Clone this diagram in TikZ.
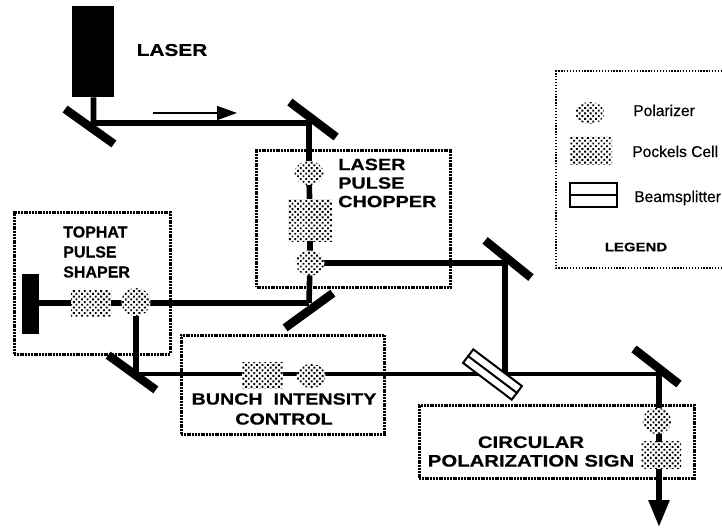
\documentclass[tikz,border=0pt]{standalone}
\usepackage{fontspec}
\setmainfont[FakeBold=0.4]{Liberation Sans}
\newfontfamily\wb[FakeStretch=1.22,FakeBold=0.5]{Liberation Sans}
\newfontfamily\nb[FakeBold=0.5]{Liberation Sans}
\usetikzlibrary{patterns.meta,arrows.meta,shapes.geometric,backgrounds}
\newdimen\px \px=.75pt
\tikzset{
  hatch/.style={fill=white,postaction={pattern={Dots[radius=1pt,distance=2.9pt,angle=45]},pattern color=black}},
  polar/.style={ellipse,draw=none,inner sep=0pt,hatch,minimum width=29\px,minimum height=24\px},
  pockels/.style={rectangle,draw=none,inner sep=0pt,hatch},
  mirror/.style={rectangle,fill=black,inner sep=0pt,minimum height=8.5\px},
  beam/.style={line width=5.6\px,draw=black},
  thinbeam/.style={line width=3.6\px,draw=black},
  zone/.style={draw=black,line width=3\px,dash pattern=on 2\px off 0.8\px},
  legendline/.style={draw=black,line width=1.2\px,dash pattern=on 1.3\px off 1.6\px},
  splitter/.style={rectangle,draw=black,fill=white,line width=2\px,inner sep=0pt},
  title/.style={font=\wb\bfseries\fontsize{12.2}{13.9}\selectfont,inner sep=0pt,text=black},
  legendtext/.style={font=\fontsize{11.7}{13}\selectfont,inner sep=0pt,anchor=base west,text=black},
}
\begin{document}
\begin{tikzpicture}[x=.75pt,y=-.75pt]
\useasboundingbox (0,0) rectangle (722,529);
\begin{scope}[on background layer]
\fill[white] (0,0) rectangle (722,529);
\end{scope}
% zones
\node[zone,rectangle,inner sep=0pt,minimum width=194\px,minimum height=137\px] (chopbox) at (353.5,218.5) {};
\node[zone,rectangle,inner sep=0pt,minimum width=156\px,minimum height=142\px] (topbox) at (92,283) {};
\node[zone,rectangle,inner sep=0pt,minimum width=203\px,minimum height=99\px] (bunchbox) at (282.5,384.5) {};
\node[zone,rectangle,inner sep=0pt,minimum width=275\px,minimum height=73\px] (circbox) at (556.5,441.5) {};
% components
\node[rectangle,fill=black,inner sep=0pt,minimum width=42\px,minimum height=91\px] (laser) at (92.5,51.5) {};
\node[mirror,rotate=-35.5,minimum width=60\px] (m1) at (89.5,126.5) {};
\node[mirror,rotate=-37,minimum width=58\px] (m2) at (313,119.5) {};
\node[mirror,rotate=-39,minimum width=59\px] (m3) at (508,259) {};
\node[mirror,rotate=36,minimum width=59\px] (m4) at (309,310.5) {};
\node[mirror,rotate=-36,minimum width=59\px] (m5) at (132,372.5) {};
\node[mirror,rotate=-38,minimum width=57\px] (m6) at (656.5,366.5) {};
\node[rectangle,fill=black,inner sep=0pt,minimum width=17\px,minimum height=60\px] (stop) at (30.5,304) {};
\coordinate (b1) at (93.5,123);
\coordinate (b2) at (309,123);
\coordinate (b3) at (505,263);
\coordinate (b4) at (309,303);
\coordinate (b5) at (136,374);
\coordinate (b6) at (659,374);
\coordinate (b7) at (505,374);
\coordinate (stopb) at (30,303);
\coordinate (out) at (659,527);
\node[polar] (p1) at (309,173) {};
\node[pockels,minimum width=44\px,minimum height=42\px] (c1) at (310,220) {};
\node[polar,minimum height=25\px] (p2) at (310,263) {};
\node[pockels,minimum width=40\px,minimum height=26\px] (c2) at (91,303) {};
\node[polar,minimum height=28\px] (p3) at (136,302) {};
\node[pockels,minimum width=41\px,minimum height=26\px] (c3) at (262.5,375) {};
\node[polar] (p4) at (311,376) {};
\node[polar,minimum height=26\px] (p5) at (657,421) {};
\node[pockels,minimum width=40\px,minimum height=27\px] (c4) at (661,455) {};
\node[splitter,rotate=-37,minimum width=61\px,minimum height=17\px] (bs) at (492.5,374.5) {};
\draw[line width=2\px] (bs.west) -- (bs.east);
% beams
\begin{scope}[on background layer]
\draw[beam] (b1 |- laser.south) -- (b1) -- (b2) -- (p1.center) -- (c1.center) -- (p2.center) -- (b4);
\draw[beam] (p2.center) -- (b3) -- (b7);
\draw[beam] (stopb) -- (b4);
\draw[beam] (p3.center) -- (b5);
\draw[thinbeam] (b5) -- (b6);
\draw[beam,-{Triangle[length=20.25pt,width=15pt]}] (b6) -- (out);
\end{scope}
% small arrow
\coordinate (aa) at (153,113); \coordinate (ab) at (237,113);
\draw[line width=1.6\px,-{Triangle[length=15pt,width=10.5pt]}] (aa) -- (ab);
% legend
\coordinate (la) at (722,71); \coordinate (lb) at (556,71);
\coordinate (lc) at (556,268); \coordinate (ld) at (722,268);
\draw[legendline] (la) -- (lb) -- (lc) -- (ld);
\node[polar,minimum height=22\px] (lp) at (590,113) {};
\node[pockels,minimum width=42\px,minimum height=28\px] (lcell) at (591,150) {};
\node[splitter,minimum width=47\px,minimum height=24\px] (lbs) at (593,194.5) {};
\draw[line width=2\px] (lbs.west) -- (lbs.east);
\node[legendtext] (t1) at (633,116) {Polarizer};
\node[legendtext] (t2) at (632,157) {Pockels Cell};
\node[legendtext] (t3) at (634,202) {Beamsplitter};
\node[title,font=\wb\bfseries\fontsize{9.2}{11}\selectfont] (t4) at (636,247) {LEGEND};
% titles
\node[title,font=\wb\bfseries\fontsize{12.8}{14}\selectfont] (t5) at (172,50) {LASER};
\node[title,align=left,anchor=west] (t6) at (338,183) {LASER\\PULSE\\CHOPPER};
\node[title,align=left,anchor=west,font=\nb\bfseries\fontsize{12}{15}\selectfont] (t7) at (63,252) {TOPHAT\\PULSE\\SHAPER};
\node[title,align=center,font=\wb\bfseries\fontsize{12.1}{15}\selectfont] (t8) at (284,409) {BUNCH\ \ INTENSITY\\CONTROL};
\node[title,align=center,font=\wb\bfseries\fontsize{12.5}{14}\selectfont] (t9) at (531,451.5) {CIRCULAR\\POLARIZATION SIGN};
\end{tikzpicture}
\end{document}
